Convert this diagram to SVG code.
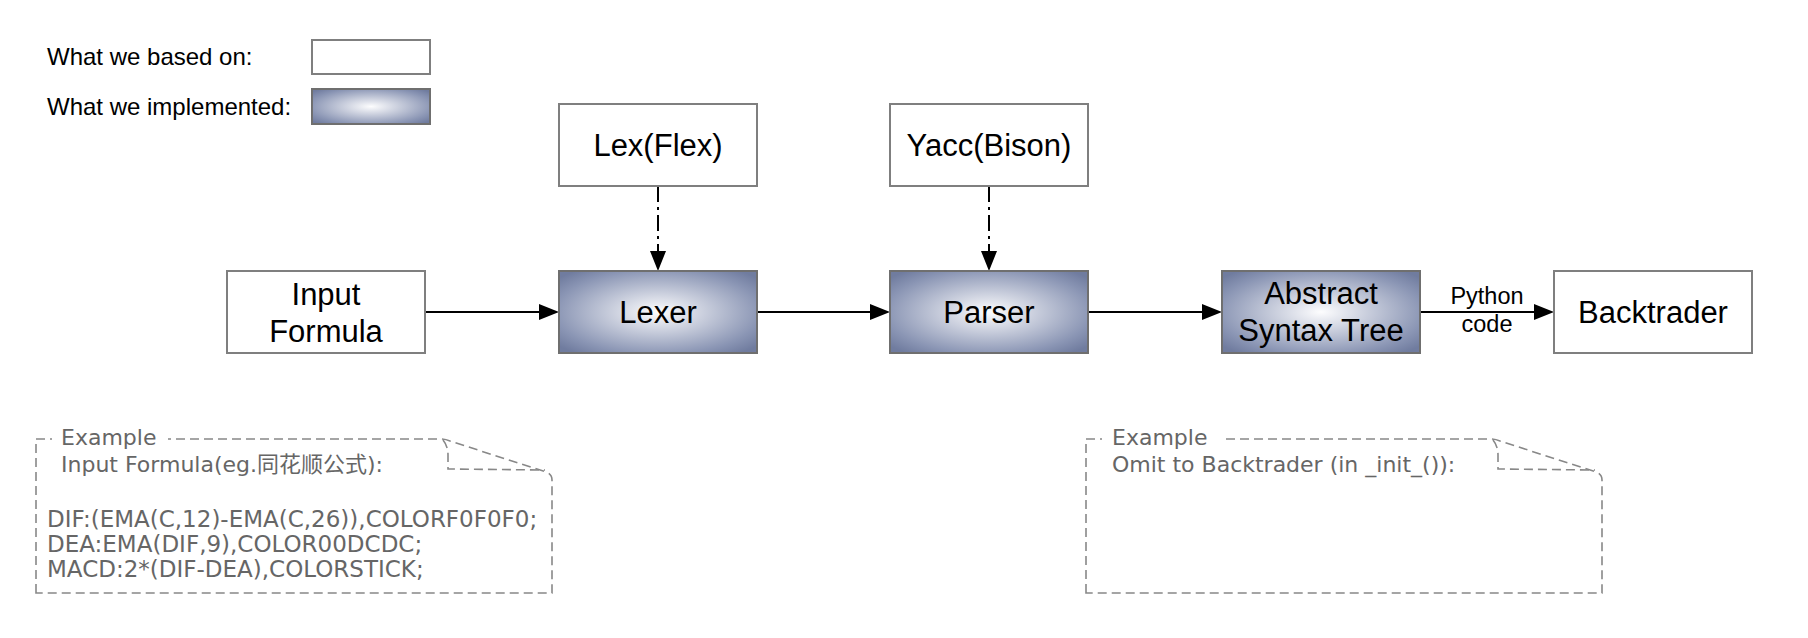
<svg xmlns="http://www.w3.org/2000/svg" width="1808" height="638" viewBox="0 0 1808 638">
<defs>
<radialGradient id="impl" cx="0.5" cy="0.5" r="0.65">
<stop offset="0" stop-color="#fdfdfe"/>
<stop offset="0.8" stop-color="#8a95b4"/>
<stop offset="1" stop-color="#707c9f"/>
</radialGradient>
<marker id="arr" markerUnits="userSpaceOnUse" markerWidth="20" markerHeight="16" refX="0" refY="8" orient="auto">
<path d="M0,0 L20,8 L0,16 Z" fill="#000"/>
</marker>
<style>
.box{fill:#fff;stroke:#7f7f7f;stroke-width:2}
.impl{fill:url(#impl);stroke:#6f6f6f;stroke-width:2}
.lbl{font-family:"Liberation Sans",Arial,Helvetica,sans-serif;fill:#000;text-anchor:middle;font-size:31px}
.leg{font-family:"Liberation Sans",Arial,Helvetica,sans-serif;fill:#000;font-size:24px}
.edge{stroke:#000;stroke-width:2;fill:none}
.dd{stroke-dasharray:16 5 3 5}
.note{fill:none;stroke:#888;stroke-width:1.6;stroke-dasharray:9 5}
.nt{font-family:"DejaVu Sans","Noto Sans CJK SC",sans-serif;fill:#666;font-size:22px}
.nb{font-size:23px}
</style>
</defs>
<rect width="1808" height="638" fill="#fff"/>

<g id="legend">
<text class="leg" x="47" y="65">What we based on:</text>
<rect class="box" x="312" y="40" width="118" height="34"/>
<text class="leg" x="47" y="115">What we implemented:</text>
<rect class="impl" x="312" y="89" width="118" height="35"/>
</g>

<g id="connectors">
<line class="edge" x1="425" y1="312" x2="539" y2="312" marker-end="url(#arr)"/>
<line class="edge" x1="757" y1="312" x2="870" y2="312" marker-end="url(#arr)"/>
<line class="edge" x1="1088" y1="312" x2="1202" y2="312" marker-end="url(#arr)"/>
<line class="edge" x1="1420" y1="312" x2="1534" y2="312" marker-end="url(#arr)"/>
<line class="edge dd" x1="658" y1="186" x2="658" y2="251" marker-end="url(#arr)"/>
<line class="edge dd" x1="989" y1="186" x2="989" y2="251" marker-end="url(#arr)"/>
<text class="lbl" x="1487" y="304" style="font-size:23.5px">Python</text>
<text class="lbl" x="1487" y="332" style="font-size:23.5px">code</text>
</g>

<g id="lex">
<rect class="box" x="559" y="104" width="198" height="82"/>
<text class="lbl" x="658" y="156">Lex(Flex)</text>
</g>
<g id="yacc">
<rect class="box" x="890" y="104" width="198" height="82"/>
<text class="lbl" x="989" y="156">Yacc(Bison)</text>
</g>
<g id="input">
<rect class="box" x="227" y="271" width="198" height="82"/>
<text class="lbl" x="326" y="305">Input</text>
<text class="lbl" x="326" y="342">Formula</text>
</g>
<g id="lexer">
<rect class="impl" x="559" y="271" width="198" height="82"/>
<text class="lbl" x="658" y="323">Lexer</text>
</g>
<g id="parser">
<rect class="impl" x="890" y="271" width="198" height="82"/>
<text class="lbl" x="989" y="323">Parser</text>
</g>
<g id="ast">
<rect class="impl" x="1222" y="271" width="198" height="82"/>
<text class="lbl" x="1321" y="304">Abstract</text>
<text class="lbl" x="1321" y="341">Syntax Tree</text>
</g>
<g id="backtrader">
<rect class="box" x="1554" y="271" width="198" height="82"/>
<text class="lbl" x="1653" y="323">Backtrader</text>
</g>

<g id="note-input">
<path class="note" d="M36,593 L36,439 L440,439 Q445,439 450,441 L546,472 Q552,474 552,480 L552,593 Z"/>
<path class="note" d="M443,440 Q448,446 448,455 L448,469 L545,470"/>
<rect x="52" y="428" width="116" height="20" fill="#fff"/>
<text class="nt" x="61" y="445">Example</text>
<text class="nt" x="61" y="472">Input Formula(eg.同花顺公式):</text>
<text class="nt nb" x="47" y="527">DIF:(EMA(C,12)-EMA(C,26)),COLORF0F0F0;</text>
<text class="nt nb" x="47" y="552">DEA:EMA(DIF,9),COLOR00DCDC;</text>
<text class="nt nb" x="47" y="577">MACD:2*(DIF-DEA),COLORSTICK;</text>
</g>

<g id="note-output">
<path class="note" d="M1086,593 L1086,439 L1490,439 Q1495,439 1500,441 L1596,472 Q1602,474 1602,480 L1602,593 Z"/>
<path class="note" d="M1493,440 Q1498,446 1498,455 L1498,469 L1595,470"/>
<rect x="1102" y="428" width="120" height="20" fill="#fff"/>
<text class="nt" x="1112" y="445">Example</text>
<text class="nt" x="1112" y="472">Omit to Backtrader (in _init_()):</text>
</g>
</svg>
